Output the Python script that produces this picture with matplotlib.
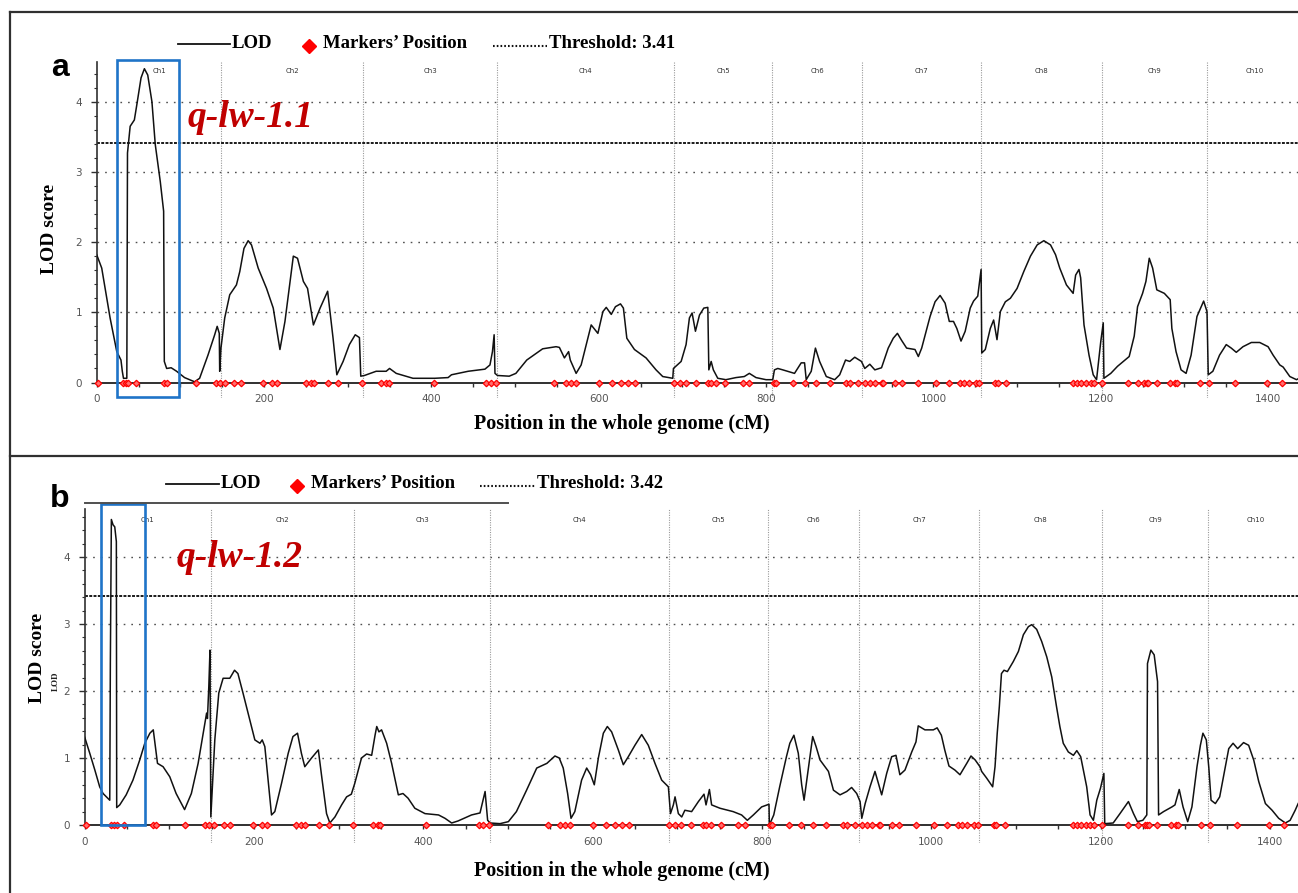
import matplotlib
matplotlib.use('Agg')
import matplotlib.pyplot as plt
from matplotlib.lines import Line2D
from matplotlib.patches import Rectangle
import numpy as np

# ---------------- data ----------------
chrom_names = ['Ch1', 'Ch2', 'Ch3', 'Ch4', 'Ch5', 'Ch6', 'Ch7', 'Ch8', 'Ch9', 'Ch10']
chrom_bounds = [0, 149, 318, 479, 690, 807, 915, 1057, 1202, 1327, 1440]
x_ticks = [0, 200, 400, 600, 800, 1000, 1200, 1400]
y_ticks = [0, 1, 2, 3, 4]

marker_pos = [1.2, 31, 34.6, 37.8, 46.6, 80.4, 84.3, 118.6, 142.5, 147, 153, 164, 172,
              199, 210, 215, 250, 256, 260, 276.6, 288.5, 317, 340, 346, 349, 403,
              465.6, 471, 477.5, 547, 561, 567, 573, 600, 616, 627, 635, 643, 690.5,
              697, 704.5, 716.5, 730.4, 734.4, 740.4, 751.5, 772, 780, 810, 812, 832,
              846, 860, 876, 896, 900, 910, 918, 924, 930, 938, 940, 954, 962, 982,
              1003, 1019, 1032, 1036, 1042, 1051, 1055, 1074, 1077, 1087, 1167, 1172,
              1177, 1182.5, 1188, 1192, 1202, 1233, 1244, 1252, 1255, 1257, 1267, 1283,
              1289, 1291, 1319, 1329, 1361, 1399, 1417]

threshold_a = 3.41
threshold_b = 3.42

lod_a_pos = [0, 6, 16, 24, 29, 30.6, 32, 36, 36.8, 40, 45, 48, 53, 57, 61, 66, 70, 76, 80,
             80.8, 83.6, 89, 95.5, 105, 117, 123, 133, 141, 144, 146.5, 147, 148.5, 153,
             159, 167, 171, 176, 181, 185, 193, 203, 211, 219, 225, 230, 235, 240, 247,
             252, 259, 267, 276, 282.5, 287, 294.5, 302, 309, 314, 315.6, 320, 334, 346,
             350, 358, 378, 404, 420, 424, 444, 464, 470, 473, 475, 476, 479, 493, 501,
             514, 533, 549, 553, 559, 564, 566, 573, 579, 591, 599, 605, 609, 615, 620,
             626, 629.5, 633.6, 642.7, 656.6, 668.5, 676.5, 688.5, 689.3, 698.5, 704.4,
             708.4, 711.6, 715.6, 720.4, 725.6, 730.4, 731.6, 734.4, 737, 742.3, 752, 764,
             774, 780, 788, 800, 808, 810, 814, 820, 834, 842, 846, 848, 854, 859, 864,
             872, 882, 888, 895, 900, 906, 914, 918, 924, 930, 938, 946, 952, 957, 962,
             968, 978, 982, 986, 996, 1002, 1008, 1014, 1019, 1024, 1028, 1033, 1038,
             1044, 1048, 1053, 1057, 1057.8, 1062, 1068, 1072, 1076, 1080, 1086, 1092,
             1100, 1108, 1116, 1124, 1132, 1140, 1146, 1151, 1159, 1167, 1170, 1174,
             1176, 1180, 1186, 1191, 1195, 1200, 1203, 1203.8, 1212, 1220, 1234, 1240,
             1244, 1250, 1254, 1258, 1262, 1267, 1276, 1283, 1285, 1290, 1296, 1302,
             1308, 1315, 1323, 1327, 1328.5, 1334, 1342, 1350, 1356, 1362, 1370, 1380,
             1390, 1400, 1406, 1414, 1418, 1426, 1434, 1437]
lod_a_val = [1.82, 1.63, 0.92, 0.44, 0.32, 0.16, 0.06, 0.06, 3.27, 3.65, 3.74, 3.96, 4.34,
             4.47, 4.38, 4.0, 3.39, 2.86, 2.44, 0.30, 0.20, 0.21, 0.16, 0.07, 0.01, 0.06,
             0.39, 0.68, 0.80, 0.70, 0.16, 0.49, 0.92, 1.25, 1.39, 1.58, 1.91, 2.02, 1.96,
             1.63, 1.34, 1.06, 0.47, 0.87, 1.34, 1.80, 1.77, 1.44, 1.34, 0.82, 1.06, 1.30,
             0.63, 0.11, 0.30, 0.54, 0.68, 0.64, 0.09, 0.10, 0.16, 0.16, 0.20, 0.13, 0.06,
             0.06, 0.07, 0.11, 0.16, 0.19, 0.25, 0.44, 0.68, 0.13, 0.10, 0.09, 0.13, 0.32,
             0.48, 0.51, 0.50, 0.35, 0.44, 0.32, 0.13, 0.25, 0.82, 0.70, 1.01, 1.07, 0.97,
             1.08, 1.12, 1.06, 0.63, 0.47, 0.35, 0.18, 0.085, 0.06, 0.20, 0.30, 0.54, 0.92,
             0.99, 0.73, 0.96, 1.06, 1.07, 0.18, 0.30, 0.18, 0.06, 0.04, 0.07, 0.085, 0.13,
             0.07, 0.04, 0.04, 0.18, 0.20, 0.18, 0.13, 0.28, 0.28, 0.04, 0.16, 0.49, 0.30,
             0.085, 0.04, 0.11, 0.32, 0.30, 0.36, 0.30, 0.20, 0.26, 0.18, 0.21, 0.49, 0.63,
             0.70, 0.60, 0.49, 0.47, 0.37, 0.49, 0.94, 1.15, 1.24, 1.13, 0.87, 0.87, 0.77,
             0.59, 0.73, 1.06, 1.16, 1.23, 1.61, 0.42, 0.47, 0.77, 0.89, 0.61, 1.01, 1.15,
             1.20, 1.34, 1.58, 1.80, 1.96, 2.02, 1.96, 1.82, 1.63, 1.39, 1.27, 1.53, 1.61,
             1.49, 0.82, 0.39, 0.11, 0.04, 0.58, 0.85, 0.06, 0.13, 0.23, 0.37, 0.66, 1.08,
             1.27, 1.44, 1.77, 1.63, 1.32, 1.27, 1.18, 0.77, 0.44, 0.18, 0.13, 0.39, 0.94,
             1.16, 1.01, 0.11, 0.16, 0.39, 0.54, 0.49, 0.43, 0.51, 0.57, 0.57, 0.51, 0.39,
             0.25, 0.22, 0.085, 0.04, 0.06]

lod_b_pos = [0, 6, 12, 17.7, 21.7, 29.6, 30.3, 31.5, 33.5, 35.5, 37.4, 37.8, 41.4, 49, 57,
             65, 71, 77, 81, 86, 92.6, 100.5, 108, 118, 126, 134, 142, 144, 145, 146.6,
             148, 149, 150, 153.7, 158.4, 163.5, 171.4, 177, 181, 187, 193, 201, 207,
             209.7, 212.8, 220.7, 224.6, 232.5, 240.4, 246, 251.4, 256, 260, 268, 276,
             280, 285.7, 289.6, 295.6, 303.5, 309.4, 315, 319, 327, 333, 339, 343, 345,
             347.6, 350.7, 356.7, 362.6, 370.5, 376, 382, 390, 402, 418, 425.6, 433.5,
             441, 457, 467, 473, 476, 479, 490.6, 500.5, 510, 522, 534, 546, 555.5, 560.6,
             565.3, 570.5, 574.5, 579, 587, 593, 597.7, 602, 606.8, 612.7, 617.4, 622.5,
             630.4, 636.3, 642.2, 650, 658, 665.8, 673.7, 681.6, 689.5, 692, 695.4, 697.4,
             701.3, 705.3, 709, 717, 725, 731.6, 734, 738, 740.6, 750.5, 766, 776, 782.8,
             789.9, 799.7, 808.4, 808.8, 814, 821, 829, 833, 837.8, 843, 847, 849.8,
             854.9, 860, 864, 868.7, 878.6, 884.5, 892.3, 900.2, 906, 912, 916, 918, 922,
             927.7, 933.6, 937.6, 941.5, 947.4, 953.3, 958.4, 963, 969, 977, 982, 984.7,
             992.6, 1002.5, 1007, 1012, 1016, 1021, 1028, 1034, 1042, 1047, 1052, 1057.6,
             1059.6, 1065.5, 1072.6, 1075.4, 1078, 1080.5, 1083, 1086, 1090, 1097, 1103,
             1108.9, 1114.8, 1118.7, 1124.6, 1130.5, 1136.5, 1142.4, 1148, 1152, 1156,
             1162, 1168, 1172, 1176.6, 1179.8, 1183.7, 1187.7, 1191.6, 1195.6, 1200, 1204,
             1205, 1215, 1223, 1233, 1239, 1243.6, 1250, 1254.7, 1255.5, 1259.5, 1263.4,
             1267.4, 1268.6, 1274.5, 1284.4, 1288, 1293, 1297.5, 1303, 1308, 1314, 1318,
             1321, 1325, 1328, 1330.6, 1335.7, 1340.8, 1347.5, 1351.5, 1356.6, 1362, 1369,
             1375, 1381, 1386.9, 1394.8, 1402.7, 1410.5, 1418.4, 1424, 1430, 1433.5]
lod_b_val = [1.31, 1.07, 0.82, 0.57, 0.47, 0.37, 2.41, 4.56, 4.48, 4.45, 4.23, 0.26, 0.30,
             0.45, 0.67, 0.97, 1.22, 1.37, 1.42, 0.92, 0.87, 0.72, 0.47, 0.23, 0.47, 0.92,
             1.52, 1.67, 1.59, 2.06, 2.61, 0.12, 0.37, 1.27, 1.97, 2.19, 2.19, 2.31, 2.26,
             1.97, 1.67, 1.27, 1.22, 1.27, 1.17, 0.15, 0.20, 0.62, 1.07, 1.32, 1.37, 1.07,
             0.87, 1.0, 1.12, 0.72, 0.17, 0.03, 0.12, 0.30, 0.42, 0.46, 0.62, 1.0, 1.06,
             1.04, 1.34, 1.47, 1.39, 1.42, 1.22, 0.92, 0.45, 0.47, 0.40, 0.25, 0.17, 0.15,
             0.10, 0.03, 0.06, 0.15, 0.18, 0.50, 0.07, 0.03, 0.02, 0.05, 0.20, 0.52, 0.85,
             0.92, 1.03, 1.0, 0.85, 0.47, 0.10, 0.20, 0.67, 0.85, 0.75, 0.60, 1.0, 1.37,
             1.47, 1.39, 1.12, 0.90, 1.02, 1.19, 1.35, 1.19, 0.92, 0.67, 0.57, 0.17, 0.30,
             0.42, 0.17, 0.12, 0.22, 0.20, 0.35, 0.46, 0.30, 0.53, 0.30, 0.25, 0.20, 0.15,
             0.07, 0.15, 0.27, 0.31, 0.0, 0.15, 0.57, 1.02, 1.22, 1.34, 1.07, 0.60, 0.37,
             0.85, 1.32, 1.17, 0.97, 0.80, 0.52, 0.45, 0.50, 0.56, 0.47, 0.35, 0.10, 0.32,
             0.57, 0.80, 0.62, 0.45, 0.77, 1.02, 1.04, 0.75, 0.82, 1.09, 1.24, 1.48, 1.42,
             1.42, 1.45, 1.34, 1.12, 0.88, 0.82, 0.75, 0.92, 1.03, 0.97, 0.87, 0.80, 0.70,
             0.57, 0.87, 1.37, 1.77, 2.26, 2.31, 2.29, 2.44, 2.59, 2.84, 2.96, 2.99, 2.92,
             2.74, 2.51, 2.21, 1.77, 1.47, 1.22, 1.09, 1.04, 1.11, 1.02, 0.82, 0.57, 0.15,
             0.07, 0.37, 0.55, 0.77, 0.02, 0.03, 0.17, 0.35, 0.17, 0.05, 0.07, 0.15, 2.41,
             2.61, 2.54, 2.14, 0.15, 0.20, 0.27, 0.30, 0.53, 0.27, 0.05, 0.27, 0.87, 1.19,
             1.37, 1.27, 0.85, 0.37, 0.32, 0.42, 0.87, 1.14, 1.22, 1.14, 1.23, 1.19, 0.97,
             0.65, 0.32, 0.22, 0.10, 0.03, 0.07, 0.22, 0.32]

# ---------------- figure ----------------
W, H = 1298, 893
fig = plt.figure(figsize=(W / 100, H / 100), dpi=100)
fig.patch.set_facecolor('white')


def fx(x):
    return x / W


def fy(y):
    return 1 - y / H


SERIF = ['Liberation Serif', 'DejaVu Serif']
RED = '#C00000'
BLUE = '#1F74C8'

# outer frame lines
for (x1, y1, x2, y2) in [(10, 12, W, 12), (10, 12, 10, H), (10, 456, W, 456)]:
    fig.add_artist(Line2D([fx(x1), fx(x2)], [fy(y1), fy(y2)], color='#303030', lw=1.6))


def panel(x0_px, pxcm, y0_px, pxlod, ylim, pos, val, thr, chr_y, box, qtl, qtl_xy,
          leg_y, leg_x, letter_xy, letter, ylab_y, xlab_y):
    xlim_right = (W - x0_px) / pxcm
    top_px = y0_px - ylim[1] * pxlod
    bot_px = y0_px - ylim[0] * pxlod
    ax = fig.add_axes([fx(x0_px), fy(bot_px), fx(W) - fx(x0_px), fy(top_px) - fy(bot_px)])
    ax.set_xlim(0, xlim_right)
    ax.set_ylim(*ylim)
    ax.patch.set_alpha(0)

    # grid
    for yv in y_ticks[1:]:
        ax.axhline(yv, color='#505050', lw=1.0, dashes=(1.2, 4.3), zorder=1)
    for b in chrom_bounds[1:-1]:
        ax.axvline(b, color='#9a9a9a', lw=0.8, dashes=(1, 1.2), zorder=1)
    ax.axhline(thr, color='#1a1a1a', lw=1.4, dashes=(1.5, 0.7), zorder=2)

    # chromosome labels
    for i, nm in enumerate(chrom_names):
        c = 0.5 * (chrom_bounds[i] + chrom_bounds[i + 1])
        ax.text(c, chr_y, nm, ha='center', va='center', fontsize=5, color='#333333',
                family='DejaVu Sans')

    ax.plot(pos, val, color='#111111', lw=1.1, zorder=3)
    ax.plot(marker_pos, np.zeros(len(marker_pos)), linestyle='none', marker='D',
            ms=3.3, mfc='#ff7070', mec='#ff0000', mew=0.9, zorder=5, clip_on=False)

    # spines
    for s in ['top', 'right']:
        ax.spines[s].set_visible(False)
    ax.spines['bottom'].set_position(('data', 0))
    ax.spines['bottom'].set_color('#303030')
    ax.spines['bottom'].set_linewidth(1.4)
    ax.spines['left'].set_color('#303030')
    ax.spines['left'].set_linewidth(1.2)
    ax.spines['left'].set_bounds(0, ylim[1])

    ax.set_xticks(x_ticks)
    ax.set_xticks(np.arange(0, xlim_right, 50), minor=True)
    ax.set_yticks(y_ticks)
    ax.set_yticks(np.arange(0, ylim[1], 0.2), minor=True)
    ax.tick_params(axis='x', which='major', direction='out', length=3, width=1,
                   color='#303030', pad=5.5, labelsize=7.5, labelcolor='#555555')
    ax.tick_params(axis='x', which='minor', direction='out', length=3, width=1,
                   color='#303030')
    ax.tick_params(axis='y', which='major', direction='out', length=4.5, width=1,
                   color='#303030', pad=6, labelsize=7.5, labelcolor='#555555')
    ax.tick_params(axis='y', which='minor', direction='out', length=2.2, width=0.8,
                   color='#303030')

    # QTL box
    ax.add_patch(Rectangle((box[0], box[2]), box[1] - box[0], box[3] - box[2], fill=False,
                           edgecolor=BLUE, lw=1.9, zorder=6, clip_on=False))

    # QTL label
    fig.text(fx(qtl_xy[0]), fy(qtl_xy[1]), qtl, ha='left', va='baseline', color=RED,
             fontsize=27, fontweight='bold', fontstyle='italic', family=SERIF)

    # legend
    lx_line0, lx_line1, lx_lod, lx_dia, lx_mark, lx_dot0, lx_dot1, lx_thr = leg_x
    fig.add_artist(Line2D([fx(lx_line0), fx(lx_line1)], [fy(leg_y), fy(leg_y)],
                          color='#111111', lw=1.3))
    fig.text(fx(lx_lod), fy(leg_y), 'LOD', ha='left', va='center', fontsize=13.5,
             fontweight='bold', family=SERIF)
    fig.add_artist(Line2D([fx(lx_dia)], [fy(leg_y + 2)], marker='D', ms=7.5,
                          color='#ff0000', linestyle='none'))
    fig.text(fx(lx_mark), fy(leg_y), 'Markers\u2019 Position', ha='left', va='center',
             fontsize=13.5, fontweight='bold', family=SERIF)
    fig.add_artist(Line2D([fx(lx_dot0), fx(lx_dot1)], [fy(leg_y + 2), fy(leg_y + 2)],
                          color='#111111', lw=1.5, dashes=(0.8, 1.0)))
    fig.text(fx(lx_thr), fy(leg_y), 'Threshold: %.2f' % thr, ha='left', va='center',
             fontsize=13.5, fontweight='bold', family=SERIF)

    # panel letter
    fig.text(fx(letter_xy[0]), fy(letter_xy[1]), letter, ha='center', va='center',
             fontsize=23, fontweight='bold', family=['Liberation Sans', 'DejaVu Sans'])

    # axis labels
    fig.text(fx(ylab_y[0]), fy(ylab_y[1]), 'LOD score', rotation=90, ha='center',
             va='center', fontsize=14, fontweight='bold', family=SERIF)
    fig.text(fx(622), fy(xlab_y), 'Position in the whole genome (cM)', ha='center',
             va='center', fontsize=14.5, fontweight='bold', family=SERIF)
    return ax


# panel a
panel(x0_px=96.7, pxcm=0.8367, y0_px=382.5, pxlod=70.2, ylim=(-0.22, 4.57),
      pos=lod_a_pos, val=lod_a_val, thr=threshold_a, chr_y=4.44,
      box=(24.7, 98.7, -0.2, 4.59), qtl='q-lw-1.1', qtl_xy=(188, 127),
      leg_y=44, leg_x=(178, 230, 232, 309, 323, 493, 547, 549),
      letter_xy=(60, 68), letter='a', ylab_y=(50, 229), xlab_y=424)

# panel b
ax_b = panel(x0_px=84.7, pxcm=0.8465, y0_px=825, pxlod=67.0, ylim=(-0.27, 4.72),
             pos=lod_b_pos, val=lod_b_val, thr=threshold_b, chr_y=4.55,
             box=(18.9, 70.9, 0.0, 4.79), qtl='q-lw-1.2', qtl_xy=(177, 567),
             leg_y=484, leg_x=(166, 219, 221, 297, 311, 480, 535, 537),
             letter_xy=(60, 499), letter='b', ylab_y=(37, 658), xlab_y=871)

# small duplicated label beside the y label of panel b, and legend frame fragment
fig.text(fx(56), fy(681), 'LOD', rotation=90, ha='center', va='center', fontsize=6.5,
         fontweight='bold', family=SERIF, color='#222222')
fig.add_artist(Line2D([fx(85), fx(508)], [fy(503), fy(503)], color='#505050', lw=1.4))

fig.savefig('out.png', dpi=100, facecolor='white')
